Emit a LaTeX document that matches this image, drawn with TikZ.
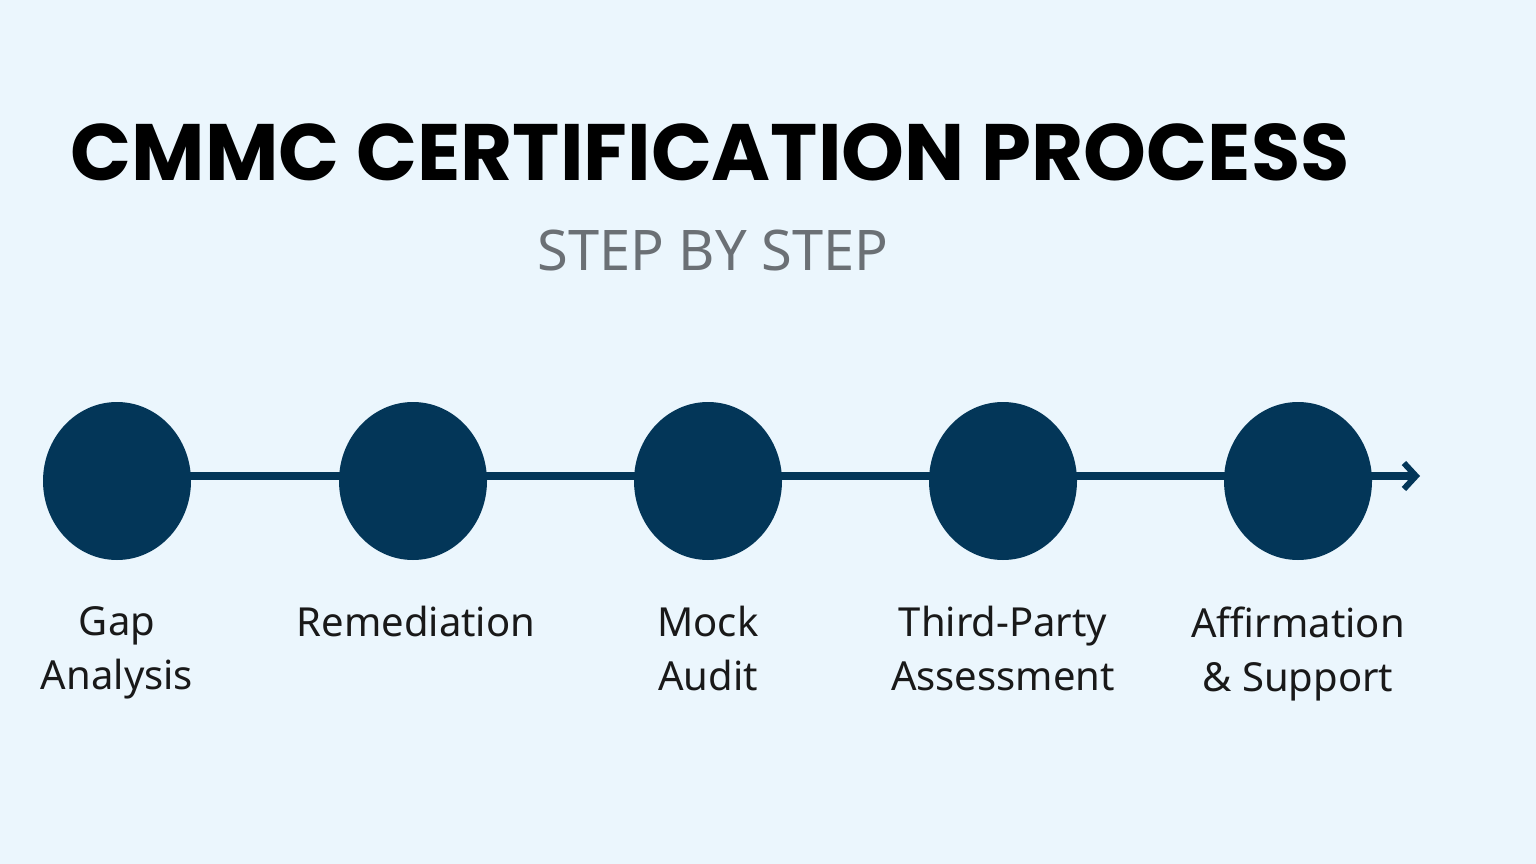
\documentclass[tikz,border=0pt]{standalone}
\usepackage{fontspec}
\setmainfont{Noto Sans}
\newfontfamily\titlefont{Poppins}[UprightFont=* Bold]
\usetikzlibrary{arrows.meta,shapes.geometric}
\definecolor{bg}{HTML}{EBF6FD}
\definecolor{navy}{HTML}{033658}
\definecolor{subgray}{HTML}{6B7075}
\begin{document}
\begin{tikzpicture}[x=1pt,y=-1pt,
  stepnode/.style={ellipse,fill=navy,minimum width=148pt,minimum height=158pt,inner sep=0pt},
  lbl/.style={font=\fontsize{40}{54}\selectfont,align=center,text=black!90}]
\fill[bg] (0,0) rectangle (1536,864);
\useasboundingbox (0,0) rectangle (1536,864);
\coordinate (tip) at (1420,476);
\coordinate (start) at (117,476);
\draw[navy,line width=8pt,-{Straight Barb[length=12pt,width=26pt,line width=6pt]}] (start) -- (tip);
\foreach \n/\x in {a/117,b/413,c/708,d/1003,e/1298}{
  \node[stepnode] (\n) at (\x,481) {};
}
\node[font=\titlefont\fontsize{80}{90}\selectfont,text=black] (title) at (710,152) {CMMC CERTIFICATION PROCESS};
\node[font=\fontsize{56}{60}\selectfont,text=subgray] (sub) at (713,251) {STEP BY STEP};
\node[lbl,anchor=north] (la) at (117,603) {Gap\\Analysis};
\node[lbl,anchor=north] (lb) at (416,603) {Remediation};
\node[lbl,anchor=north] (lc) at (708,603) {Mock\\Audit};
\node[lbl,anchor=north] (ld) at (1003,603) {Third-Party\\Assessment};
\node[lbl,anchor=north] (le) at (1298,603) {Affirmation\\\& Support};
\end{tikzpicture}
\end{document}
